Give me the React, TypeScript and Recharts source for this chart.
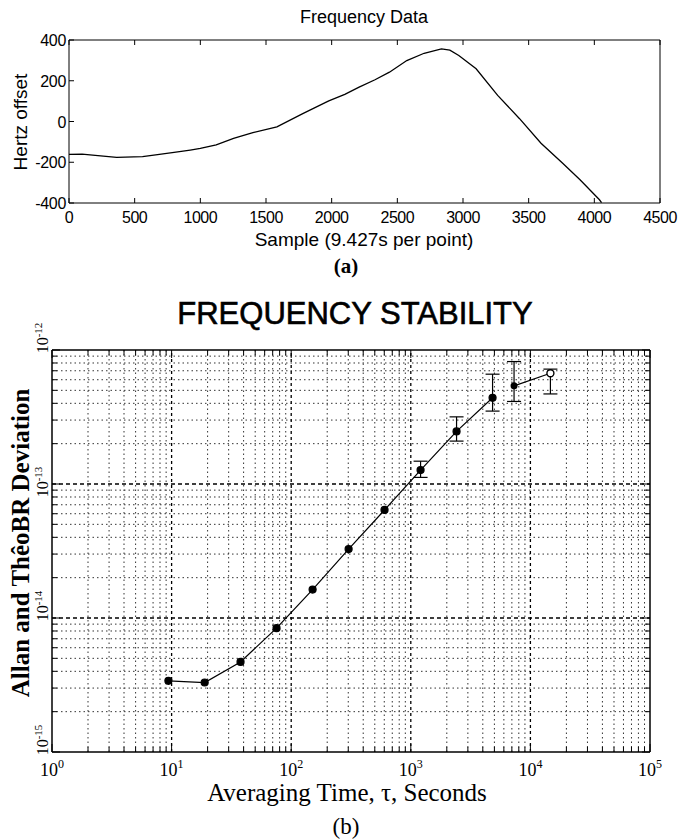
import React from 'react';
import { LineChart, ComposedChart, Line, Scatter, ErrorBar, XAxis, YAxis, ReferenceLine } from 'recharts';

// (a) raw frequency record
const sampleIdx = [0, 100, 200, 363, 560, 660, 800, 923, 1000, 1121, 1253, 1400, 1583, 1780, 1978, 2100, 2209, 2330, 2440, 2572, 2704, 2836, 2900, 2968, 3100, 3264, 3429, 3594, 3759, 3891, 4039, 4055];
const hzOffset = [-161, -160, -166, -176, -172, -164, -152, -140, -132, -115, -83, -55, -26, 39, 101, 133, 169, 205, 242, 299, 335, 356, 350, 324, 259, 128, 15, -107, -205, -286, -384, -398];
const sampleTicks = [0, 500, 1000, 1500, 2000, 2500, 3000, 3500, 4000, 4500];
const hzTicks = [-400, -200, 0, 200, 400];

// (b) stability
const tauAllan = [9.4, 18.9, 37.7, 75.4, 151, 302, 603, 1207, 2413, 4827];
const sigmaAllan = [3.4e-15, 3.3e-15, 4.7e-15, 8.4e-15, 1.63e-14, 3.27e-14, 6.4e-14, 1.27e-13, 2.47e-13, 4.4e-13];
const tauTheo = [7300, 14700];
const sigmaTheo = [5.4e-13, 6.7e-13];
const errLow = [1.12e-13, 2.09e-13, 3.5e-13, 4.13e-13, 4.7e-13];
const errHigh = [1.48e-13, 3.17e-13, 6.6e-13, 8.2e-13, 7.2e-13];
const xDecades = [1, 10, 100, 1000, 10000, 100000];
const xExpLabels = ['0', '1', '2', '3', '4', '5'];
const yDecades = [1e-15, 1e-14, 1e-13, 1e-12];
const yExpLabels = ['-15', '-14', '-13', '-12'];

const FONT_SANS = '"Liberation Sans", Arial, sans-serif';
const FONT_SERIF = '"Liberation Serif", "Times New Roman", serif';

const minorsOf = (decades: number[]) =>
  decades.slice(0, -1).flatMap((d) => [2, 3, 4, 5, 6, 7, 8, 9].map((m) => m * d));

const xMinors = minorsOf(xDecades);
const yMinors = minorsOf(yDecades);
const xAllTicks = [...xDecades, ...xMinors].sort((a, b) => a - b);
const yAllTicks = [...yDecades, ...yMinors].sort((a, b) => a - b);

const freqData = sampleIdx.map((s, i) => ({ s, hz: hzOffset[i] }));
const allanData = tauAllan.map((tau, i) => ({ tau, sigma: sigmaAllan[i] }));
const theoData = tauTheo.map((tau, i) => ({ tau, sigma: sigmaTheo[i] }));
const errTau = [tauAllan[7], tauAllan[8], tauAllan[9], tauTheo[0], tauTheo[1]];
const errMid = [sigmaAllan[7], sigmaAllan[8], sigmaAllan[9], sigmaTheo[0], sigmaTheo[1]];
const errData = errTau.map((tau, i) => ({
  tau,
  sigma: errMid[i],
  err: [errMid[i] - errLow[i], errHigh[i] - errMid[i]],
}));

type Side = 'bottom' | 'top' | 'left' | 'right';

// inward tick marks, optional label
const tickMark =
  (side: Side, len: (v: number) => number, label?: (v: number, x: number, y: number) => React.ReactNode) =>
  (props: any) => {
    const { x, y, payload } = props;
    const v = payload.value;
    const l = len(v);
    let x2 = x;
    let y2 = y;
    if (side === 'bottom') y2 = y - l;
    if (side === 'top') y2 = y + l;
    if (side === 'left') x2 = x + l;
    if (side === 'right') x2 = x - l;
    return (
      <g>
        <line x1={x} y1={y} x2={x2} y2={y2} stroke="#000" strokeWidth={1} />
        {label ? label(v, x, y) : null}
      </g>
    );
  };

const five = () => 5;
const logLen = (decs: number[]) => (v: number) => (decs.includes(v) ? 8 : 5);

const txt = (s: string, cx: number, cy: number, size: number, family: string, extra: React.CSSProperties = {}) => (
  <div
    style={{
      position: 'absolute',
      left: cx,
      top: cy,
      transform: 'translate(-50%, -50%)',
      whiteSpace: 'nowrap',
      fontSize: size,
      fontFamily: family,
      lineHeight: 1,
      color: '#000',
      ...extra,
    }}
  >
    {s}
  </div>
);

const FrequencyData = () => (
  <LineChart width={678} height={290} data={freqData} margin={{ top: 39, right: 17, bottom: 62, left: 29 }}>
    <XAxis
      dataKey="s"
      type="number"
      domain={[0, 4500]}
      ticks={sampleTicks}
      interval={0}
      tickSize={0}
      tickMargin={0}
      height={25}
      stroke="#000"
      tick={tickMark('bottom', five, (v, x, y) => (
        <text x={x} y={y + 20} textAnchor="middle" fontSize={16} letterSpacing={-0.5} fontFamily={FONT_SANS} fill="#000">
          {v}
        </text>
      ))}
    />
    <XAxis
      xAxisId="top"
      orientation="top"
      dataKey="s"
      type="number"
      domain={[0, 4500]}
      ticks={sampleTicks}
      interval={0}
      tickSize={0}
      tickMargin={0}
      height={1}
      stroke="#000"
      tick={tickMark('top', five)}
    />
    <YAxis
      type="number"
      domain={[-400, 400]}
      ticks={hzTicks}
      interval={0}
      tickSize={0}
      tickMargin={0}
      width={40}
      stroke="#000"
      tick={tickMark('left', five, (v, x, y) => (
        <text x={x - 3} y={y + 6} textAnchor="end" fontSize={16} letterSpacing={-0.3} fontFamily={FONT_SANS} fill="#000">
          {v}
        </text>
      ))}
    />
    <YAxis
      yAxisId="right"
      orientation="right"
      type="number"
      domain={[-400, 400]}
      ticks={hzTicks}
      interval={0}
      tickSize={0}
      tickMargin={0}
      width={1}
      stroke="#000"
      tick={tickMark('right', five)}
    />
    <Line dataKey="hz" type="linear" stroke="#000" strokeWidth={1.3} dot={false} isAnimationActive={false} />
  </LineChart>
);

const theoDot = (props: any) => {
  const { cx, cy, index } = props;
  if (cx == null || cy == null) return <g key={`td${index}`} />;
  return index === 0 ? (
    <circle key={`td${index}`} cx={cx} cy={cy} r={3.5} fill="#000" />
  ) : (
    <circle key={`td${index}`} cx={cx} cy={cy} r={3.5} fill="#fff" stroke="#000" strokeWidth={1.4} />
  );
};

const FrequencyStability = () => (
  <ComposedChart width={678} height={550} margin={{ top: 59, right: 27, bottom: 58, left: 22 }}>
    {xMinors.map((v) => (
      <ReferenceLine key={`xm${v}`} x={v} stroke="#333" strokeWidth={1} strokeDasharray="1.5 3" />
    ))}
    {yMinors.map((v) => (
      <ReferenceLine key={`ym${v}`} y={v} stroke="#333" strokeWidth={1} strokeDasharray="1.5 3" />
    ))}
    {xDecades.slice(1, -1).map((v) => (
      <ReferenceLine key={`xd${v}`} x={v} stroke="#000" strokeWidth={1.3} strokeDasharray="3 3" />
    ))}
    {yDecades.slice(1, -1).map((v) => (
      <ReferenceLine key={`yd${v}`} y={v} stroke="#000" strokeWidth={1.6} strokeDasharray="4 3" />
    ))}
    <XAxis
      dataKey="tau"
      type="number"
      scale="log"
      domain={[1, 100000]}
      allowDataOverflow
      ticks={xAllTicks}
      interval={0}
      tickSize={0}
      tickMargin={0}
      height={30}
      stroke="#000"
      strokeWidth={1.5}
      tick={tickMark('bottom', logLen(xDecades), (v, x, y) => {
        const i = xDecades.indexOf(v);
        if (i < 0) return null;
        return (
          <text x={x} y={y + 24} textAnchor="middle" fontSize={18} fontFamily={FONT_SERIF} fill="#000">
            10
            <tspan dy={-8} fontSize={12}>
              {xExpLabels[i]}
            </tspan>
          </text>
        );
      })}
    />
    <XAxis
      xAxisId="top"
      orientation="top"
      dataKey="tau"
      type="number"
      scale="log"
      domain={[1, 100000]}
      allowDataOverflow
      ticks={xAllTicks}
      interval={0}
      tickSize={0}
      tickMargin={0}
      height={1}
      stroke="#000"
      strokeWidth={1.5}
      tick={tickMark('top', logLen(xDecades))}
    />
    <YAxis
      dataKey="sigma"
      type="number"
      scale="log"
      domain={[1e-15, 1e-12]}
      allowDataOverflow
      ticks={yAllTicks}
      interval={0}
      tickSize={0}
      tickMargin={0}
      width={30}
      stroke="#000"
      strokeWidth={1.5}
      tick={tickMark('left', logLen(yDecades), (v, x, y) => {
        const i = yDecades.indexOf(v);
        if (i < 0) return null;
        const bx = x - 4;
        const by = y - (i === 2 ? 2 : 12);
        return (
          <text
            x={bx}
            y={by}
            transform={`rotate(-90 ${bx} ${by})`}
            textAnchor="middle"
            fontSize={16}
            fontFamily={FONT_SERIF}
            fill="#000"
          >
            10
            <tspan dy={-6} fontSize={11}>
              {yExpLabels[i]}
            </tspan>
          </text>
        );
      })}
    />
    <YAxis
      yAxisId="right"
      orientation="right"
      type="number"
      scale="log"
      domain={[1e-15, 1e-12]}
      allowDataOverflow
      ticks={yAllTicks}
      interval={0}
      tickSize={0}
      tickMargin={0}
      width={1}
      stroke="#000"
      strokeWidth={1.5}
      tick={tickMark('right', logLen(yDecades))}
    />
    <Line
      data={allanData}
      dataKey="sigma"
      type="linear"
      stroke="#000"
      strokeWidth={1.2}
      dot={{ r: 3.5, fill: '#000', stroke: '#000' }}
      isAnimationActive={false}
    />
    <Line
      data={theoData}
      dataKey="sigma"
      type="linear"
      stroke="#000"
      strokeWidth={1.2}
      dot={theoDot}
      isAnimationActive={false}
    />
    <Scatter data={errData} dataKey="sigma" shape={() => <g />} isAnimationActive={false}>
      <ErrorBar dataKey="err" direction="y" width={7} stroke="#000" strokeWidth={1.2} isAnimationActive={false} />
    </Scatter>
  </ComposedChart>
);

export default function App() {
  return (
    <div style={{ position: 'absolute', left: 0, top: 0, width: 678, height: 840, background: '#fff', overflow: 'hidden' }}>
      <div style={{ position: 'absolute', left: 0, top: 0 }}>
        <FrequencyData />
      </div>
      <div style={{ position: 'absolute', left: 0, top: 290 }}>
        <FrequencyStability />
      </div>
      {txt('Frequency Data', 364, 17, 18, FONT_SANS)}
      {txt('Hertz offset', 20, 122, 19, FONT_SANS, { transform: 'translate(-50%, -50%) rotate(-90deg)' })}
      {txt('Sample (9.427s per point)', 364, 239, 19, FONT_SANS)}
      {txt('(a)', 346, 266, 21, FONT_SERIF, { fontWeight: 'bold' })}
      {txt('FREQUENCY STABILITY', 355, 313, 31, FONT_SANS, { WebkitTextStroke: '0.6px #000' })}
      {txt('Allan  and  ThêoBR  Deviation', 20, 543, 25, FONT_SERIF, {
        fontWeight: 'bold',
        transform: 'translate(-50%, -50%) rotate(-90deg)',
      })}
      {txt('Averaging Time, τ, Seconds', 347, 792, 25, FONT_SERIF)}
      {txt('(b)', 346, 826, 23, FONT_SERIF)}
    </div>
  );
}
